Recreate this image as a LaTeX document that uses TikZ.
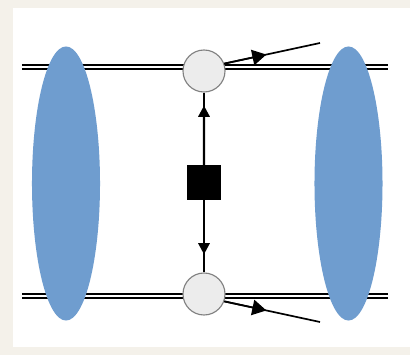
\documentclass[tikz,border=0pt]{standalone}
\usepackage{tikz}
\usetikzlibrary{arrows.meta,shapes.geometric,calc}
\usepackage{xcolor}
\definecolor{blobblue}{RGB}{111,157,207}
\definecolor{vertexgray}{RGB}{236,236,236}
\definecolor{paperbeige}{RGB}{244,241,234}

\begin{document}
\begin{tikzpicture}[x=0.025cm,y=-0.025cm,
    rail/.style={double=white,double distance=1.7pt,line width=1.6pt},
    blob/.style={ellipse,fill=blobblue,inner sep=0pt,minimum width=1.7cm,minimum height=6.85cm},
    vertex/.style={circle,draw=gray,line width=0.8pt,fill=vertexgray,inner sep=0pt,minimum size=1.05cm},
    prop/.style={line width=1.7pt},
    photon/.style={line width=1.2pt},
    tipv/.style={-{Triangle[width=8pt,length=8pt]}},
    tipg/.style={-{Triangle[width=11pt,length=10pt]}}]
    % paper and panel
    \fill[paperbeige] (0,0) rectangle (410,355);
    \fill[white] (13,8) rectangle (410,347);

    % double lines (drawn first, blobs cover them)
    \coordinate (railtl) at (22,67);
    \coordinate (railtr) at (388,67);
    \coordinate (railbl) at (22,296);
    \coordinate (railbr) at (388,296);
    \draw[rail] (railtl) -- (railtr);
    \draw[rail] (railbl) -- (railbr);

    % blobs
    \node[blob] (blobl) at (66,183.5) {};
    \node[blob] (blobr) at (348.5,183.5) {};

    % exchange: vertices and box
    \node[vertex] (ctop) at (204,71) {};
    \node[vertex] (cbot) at (204,294) {};
    \node[fill=black,inner sep=0pt,minimum width=0.85cm,minimum height=0.87cm] (sq) at (204,182.5) {};
    \draw[prop] (ctop) -- (sq);
    \draw[prop] (sq) -- (cbot);
    \draw[prop,tipv] (sq.north) -- ($(sq.north)!0.82!(ctop.south)$);
    \draw[prop,tipv] (sq.south) -- ($(sq.south)!0.75!(cbot.north)$);

    % outgoing photons
    \coordinate (gtop) at (320,43);
    \coordinate (gbot) at (320,322);
    \draw[photon] (ctop.20) -- (gtop);
    \draw[photon] (cbot.-20) -- (gbot);
    \draw[photon,tipg] (ctop.20) -- ($(ctop.20)!0.44!(gtop)$);
    \draw[photon,tipg] (cbot.-20) -- ($(cbot.-20)!0.44!(gbot)$);
  \end{tikzpicture}
\end{document}
